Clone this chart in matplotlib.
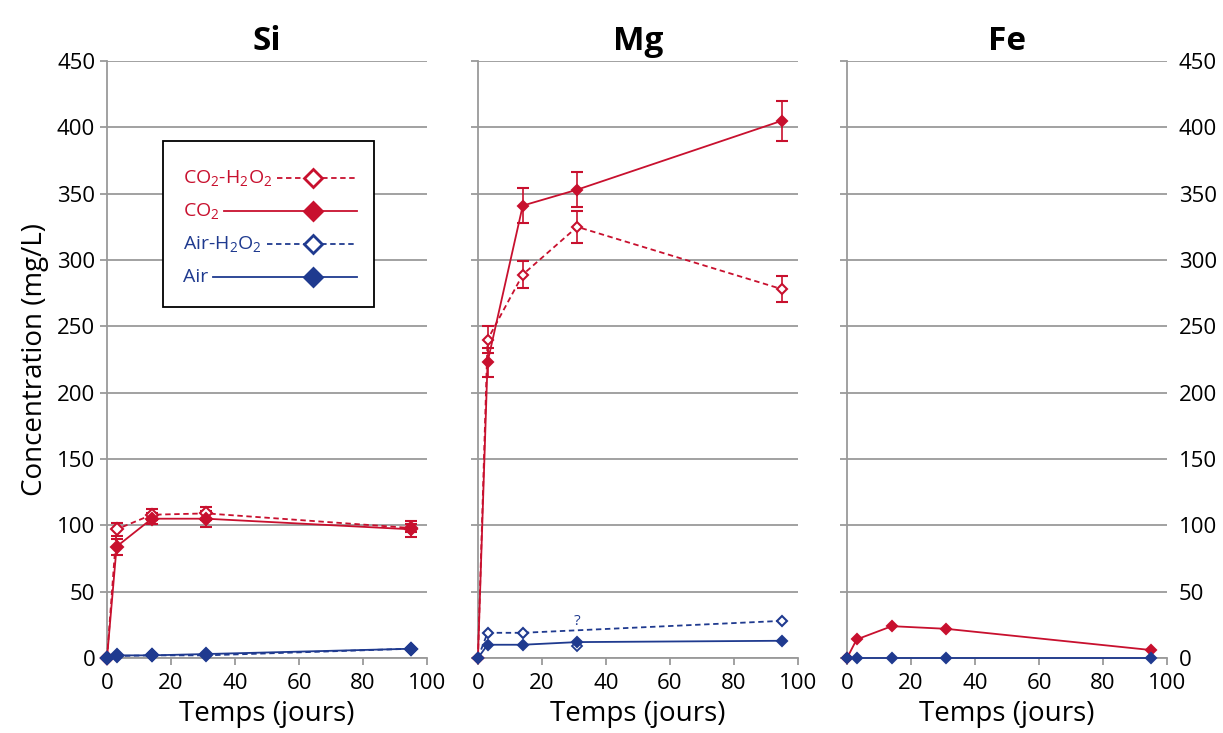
import matplotlib.pyplot as plt
from matplotlib.patches import Rectangle

plt.rcParams['font.family'] = ['Open Sans', 'DejaVu Sans']
plt.rcParams['mathtext.default'] = 'regular'

RED = '#c8102e'
BLUE = '#1f3a8f'
GRID = '#9a9a9a'

days = [0, 3, 14, 31, 95]

# Si
si_co2_h2o2 = [0, 97, 108, 109, 98]
si_co2_h2o2_err = [0, 5, 4, 5, 3]
si_co2 = [0, 84, 105, 105, 97]
si_co2_err = [0, 6, 4, 6, 6]
si_air_h2o2 = [0, 1.5, 2, 2, 7]
si_air = [0, 2, 2, 3, 7]

# Mg
mg_co2_h2o2 = [0, 240, 289, 325, 278]
mg_co2_h2o2_err = [0, 10, 10, 12, 10]
mg_co2 = [0, 223, 341, 353, 405]
mg_co2_err = [0, 11, 13, 13, 15]
mg_air_h2o2_days = [0, 3, 14, 95]
mg_air_h2o2 = [0, 19, 19, 28]
mg_air_h2o2_odd_day = 31
mg_air_h2o2_odd = 9
mg_air = [0, 10, 10, 12, 13]

# Fe
fe_co2 = [0, 14, 24, 22, 6]
fe_air = [0, 0, 0, 0, 0]

legend_labels = ['CO$_2$-H$_2$O$_2$', 'CO$_2$', 'Air-H$_2$O$_2$', 'Air']
legend_colors = [RED, RED, BLUE, BLUE]
legend_filled = [False, True, False, True]

fig = plt.figure(figsize=(12.23, 7.33), dpi=100)
lefts = [0.0875, 0.3908, 0.6926]
axes = [fig.add_axes([l, 0.1023, 0.2617, 0.8145]) for l in lefts]

dash = (0, (3, 2))


def style(ax, title):
    ax.set_xlim(0, 100)
    ax.set_ylim(0, 450)
    ax.set_xticks(range(0, 101, 20))
    ax.set_yticks(range(0, 451, 50))
    ax.grid(axis='y', color=GRID, lw=1.3)
    ax.set_axisbelow(True)
    for s in ['top', 'right']:
        ax.spines[s].set_visible(False)
    for s in ['left', 'bottom']:
        ax.spines[s].set_color(GRID)
        ax.spines[s].set_linewidth(1.3)
    ax.tick_params(colors=GRID, labelcolor='black', labelsize=16, length=5, width=1.3)
    ax.tick_params(axis='x', pad=6)
    ax.set_xlabel('Temps (jours)', fontsize=20, labelpad=4)
    ax.set_title(title, fontsize=24, fontweight='bold', pad=8)


def series(ax, x, y, color, filled, dashed, err=None, ms=6.5, z=3):
    ls = dash if dashed else '-'
    mfc = color if filled else 'white'
    if err is not None:
        ax.errorbar(x, y, yerr=err, color=color, ls=ls, lw=1.3, marker='D',
                    ms=ms, mfc=mfc, mec=color, mew=1.5, capsize=4, elinewidth=1.2,
                    clip_on=False, zorder=z)
    else:
        ax.plot(x, y, color=color, ls=ls, lw=1.3, marker='D', ms=ms,
                mfc=mfc, mec=color, mew=1.5, clip_on=False, zorder=z)


ax = axes[0]
style(ax, 'Si')
series(ax, days, si_co2_h2o2, RED, False, True, si_co2_h2o2_err)
series(ax, days, si_co2, RED, True, False, si_co2_err)
series(ax, days, si_air_h2o2, BLUE, False, True, z=4)
series(ax, days, si_air, BLUE, True, False, z=4)
ax.set_ylabel('Concentration (mg/L)', fontsize=20, labelpad=6)

ax = axes[1]
style(ax, 'Mg')
series(ax, days, mg_co2_h2o2, RED, False, True, mg_co2_h2o2_err, ms=5.5)
series(ax, days, mg_co2, RED, True, False, mg_co2_err, ms=5.5)
series(ax, mg_air_h2o2_days, mg_air_h2o2, BLUE, False, True, ms=5.5, z=4)
ax.plot([mg_air_h2o2_odd_day], [mg_air_h2o2_odd], ls='none', marker='D', ms=5.5,
        mfc='white', mec=BLUE, mew=1.3, zorder=4)
ax.text(mg_air_h2o2_odd_day, 22, '?', color=BLUE, fontsize=11, ha='center', va='bottom')
series(ax, days, mg_air, BLUE, True, False, ms=5.5, z=4)
ax.tick_params(labelleft=False)

ax = axes[2]
style(ax, 'Fe')
series(ax, days, fe_co2, RED, True, False, ms=5.5)
series(ax, days, fe_air, BLUE, True, False, ms=5.5, z=4)
ax.tick_params(labelleft=False, labelright=True, right=False)

# hand-made legend: label on the left, line with marker on the right
ax = axes[0]
ax.add_patch(Rectangle((0.175, 0.588), 0.659, 0.278, transform=ax.transAxes,
                       fc='white', ec='black', lw=1.3, zorder=5))
fig.canvas.draw()
renderer = fig.canvas.get_renderer()
row_y = [0.804, 0.749, 0.693, 0.638]
for lab, col, filled, yy in zip(legend_labels, legend_colors, legend_filled, row_y):
    t = ax.text(0.2375, yy, lab, color=col, fontsize=14, ha='left', va='center',
                transform=ax.transAxes, zorder=6)
    bb = t.get_window_extent(renderer).transformed(ax.transAxes.inverted())
    ls = '-' if filled else dash
    ax.plot([bb.x1 + 0.015, 0.781], [yy, yy], color=col, ls=ls, lw=1.3,
            transform=ax.transAxes, zorder=6)
    ax.plot([0.644], [yy], marker='D', ms=9, mfc=col if filled else 'white',
            mec=col, mew=2, transform=ax.transAxes, zorder=7)

fig.savefig('out.png', dpi=100)
